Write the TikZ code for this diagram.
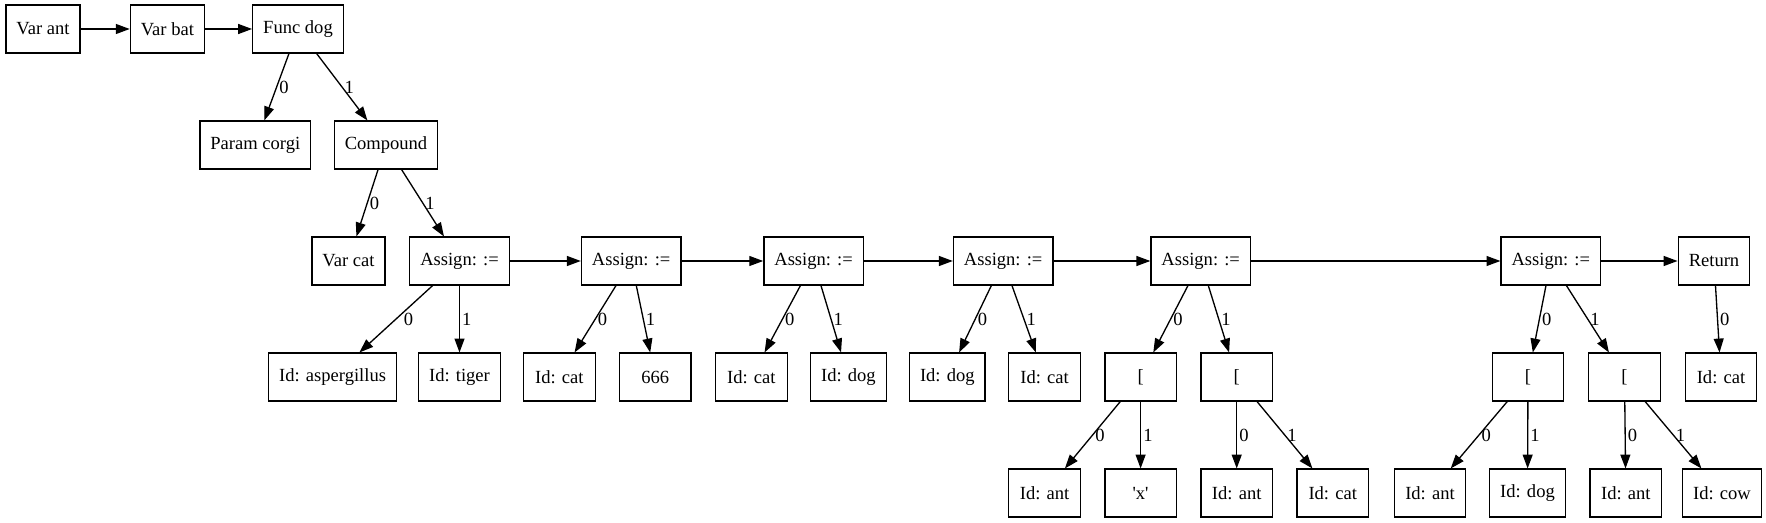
\documentclass[tikz,border=0pt]{standalone}
\usepackage{fontspec}
\setmainfont{Liberation Serif}[Ligatures=TeXOff]
\usetikzlibrary{arrows.meta}
\begin{document}
\begin{tikzpicture}[x=0.7547pt,y=-0.7547pt,
  box/.style={draw, line width=1pt, minimum width=54pt, minimum height=36pt,
    inner xsep=7.9pt, inner ysep=0pt, font=\fontsize{14}{16}\selectfont},
  edge/.style={line width=1pt, -{Triangle[length=10.5pt,width=7.5pt]}},
  lab/.style={right, inner sep=1.5pt, font=\fontsize{14}{16}\selectfont}]
\useasboundingbox (0,0) rectangle (1766,523);
% row 0
\node[box] (va) at (43,29) {Var ant};
\node[box] (vb) at (167.4,29) {Var bat};
\node[box] (fd) at (298,29) {Func dog};
% row 1
\node[box] (pc) at (255.3,145) {Param corgi};
\node[box] (cp) at (386,145) {Compound};
% row 2
\node[box] (vc) at (348.5,261) {Var cat};
\node[box] (a1) at (459.5,261) {Assign: :=};
\node[box] (a2) at (631.2,261) {Assign: :=};
\node[box] (a3) at (813.6,261) {Assign: :=};
\node[box] (a4) at (1003.2,261) {Assign: :=};
\node[box] (a5) at (1200.7,261) {Assign: :=};
\node[box] (a6) at (1550.8,261) {Assign: :=};
\node[box] (rt) at (1714,261) {Return};
% row 3
\node[box] (asp) at (332.6,377) {Id: aspergillus};
\node[box] (tig) at (459.5,377) {Id: tiger};
\node[box] (c1) at (559.4,377) {Id: cat};
\node[box] (n6) at (655.3,377) {666};
\node[box] (c2) at (751.4,377) {Id: cat};
\node[box] (d1) at (848.4,377) {Id: dog};
\node[box] (d2) at (947.3,377) {Id: dog};
\node[box] (c3) at (1044.6,377) {Id: cat};
\node[box] (b1) at (1140.6,377) {[};
\node[box] (b2) at (1236.7,377) {[};
\node[box] (b3) at (1528,377) {[};
\node[box] (b4) at (1624.5,377) {[};
\node[box] (c5) at (1721,377) {Id: cat};
% row 4
\node[box] (an1) at (1044.6,493) {Id: ant};
\node[box] (qx) at (1140.6,493) {'x'};
\node[box] (an2) at (1236.7,493) {Id: ant};
\node[box] (c4) at (1332.7,493) {Id: cat};
\node[box] (an3) at (1430,493) {Id: ant};
\node[box] (d3) at (1527.5,493) {Id: dog};
\node[box] (an4) at (1625.8,493) {Id: ant};
\node[box] (cw) at (1722,493) {Id: cow};
% flat edges
\draw[edge] (va) -- (vb);
\draw[edge] (vb) -- (fd);
\draw[edge] (a1) -- (a2);
\draw[edge] (a2) -- (a3);
\draw[edge] (a3) -- (a4);
\draw[edge] (a4) -- (a5);
\draw[edge] (a5) -- (a6);
\draw[edge] (a6) -- (rt);
% tree edges
\draw[edge] (fd) -- node[lab]{0} (pc);
\draw[edge] (fd) -- node[lab]{1} (cp);
\draw[edge] (cp) -- node[lab]{0} (vc);
\draw[edge] (cp) -- node[lab]{1} (a1);
\draw[edge] (a1) -- node[lab, xshift=4pt]{0} (asp);
\draw[edge] (a1) -- node[lab]{1} (tig);
\draw[edge] (a2) -- node[lab]{0} (c1);
\draw[edge] (a2) -- node[lab]{1} (n6);
\draw[edge] (a3) -- node[lab]{0} (c2);
\draw[edge] (a3) -- node[lab]{1} (d1);
\draw[edge] (a4) -- node[lab]{0} (d2);
\draw[edge] (a4) -- node[lab]{1} (c3);
\draw[edge] (a5) -- node[lab]{0} (b1);
\draw[edge] (a5) -- node[lab]{1} (b2);
\draw[edge] (b1) -- node[lab]{0} (an1);
\draw[edge] (b1) -- node[lab]{1} (qx);
\draw[edge] (b2) -- node[lab]{0} (an2);
\draw[edge] (b2) -- node[lab]{1} (c4);
\draw[edge] (a6) -- node[lab]{0} (b3);
\draw[edge] (a6) -- node[lab]{1} (b4);
\draw[edge] (b3) -- node[lab]{0} (an3);
\draw[edge] (b3) -- node[lab]{1} (d3);
\draw[edge] (b4) -- node[lab]{0} (an4);
\draw[edge] (b4) -- node[lab]{1} (cw);
\draw[edge] (rt) -- node[lab]{0} (c5);
\end{tikzpicture}
\end{document}
